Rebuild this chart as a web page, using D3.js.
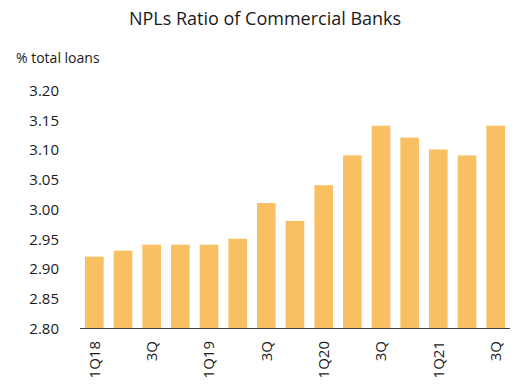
<!DOCTYPE html>
<html>
<head>
<meta charset="utf-8">
<script src="https://cdn.jsdelivr.net/npm/d3@7"></script>
<style>
  body { margin: 0; background: #fff; }
  text { font-family: "Open Sans", sans-serif; fill: #1a1a1a; }
</style>
</head>
<body>
<div id="chart"></div>
<script>
// quarters (1Q18 .. 3Q21)
const quarters = ["1Q18","2Q18","3Q18","4Q18","1Q19","2Q19","3Q19","4Q19",
                  "1Q20","2Q20","3Q20","4Q20","1Q21","2Q21","3Q21"]
const tickLabels = ["1Q18","","3Q","","1Q19","","3Q","","1Q20","","3Q","","1Q21","","3Q"]
const nplRatio = [2.92, 2.93, 2.94, 2.94, 2.94, 2.95, 3.01, 2.98,
                  3.04, 3.09, 3.14, 3.12, 3.10, 3.09, 3.14]
const yTicks = [2.80, 2.85, 2.90, 2.95, 3.00, 3.05, 3.10, 3.15, 3.20]

const width = 523
const height = 385
const margin = { top: 90, right: 13, bottom: 57, left: 80 }

const svg = d3.select('#chart')
    .append('svg')
    .attr('width', width)
    .attr('height', height)

//title
svg.append('text')
    .attr('x', 265)
    .attr('y', 25)
    .attr('text-anchor', 'middle')
    .style('font-size', '18px')
    .text('NPLs Ratio of Commercial Banks')

svg.append('text')
    .attr('x', 16)
    .attr('y', 63)
    .style('font-size', '14px')
    .text('% total loans')

const x = d3.scaleBand()
    .domain(quarters)
    .range([margin.left, width - margin.right])
    .paddingInner(0.35)
    .paddingOuter(0.175)

const y = d3.scaleLinear()
    .domain([2.80, 3.20])
    .range([height - margin.bottom, margin.top])

//bars
svg.append('g')
    .selectAll('rect')
    .data(nplRatio)
    .join('rect')
    .attr('x', (d, i) => x(quarters[i]))
    .attr('y', d => y(d))
    .attr('width', x.bandwidth())
    .attr('height', d => y(2.80) - y(d))
    .attr('fill', '#f9bf63')

//y axis (labels only)
const yAxis = svg.append('g')
    .attr('transform', `translate(${margin.left - 18},0)`)
    .call(d3.axisLeft(y).tickValues(yTicks).tickFormat(d3.format('.2f')).tickSize(0))
yAxis.select('.domain').remove()
yAxis.selectAll('text')
    .style('font-size', '15px')
    .attr('dy', '0.35em')
    .style('fill', '#1a1a1a')

//x axis
const xAxis = svg.append('g')
    .attr('transform', `translate(0,${height - margin.bottom})`)
    .call(d3.axisBottom(x).tickSize(0).tickFormat((d, i) => tickLabels[i]))
xAxis.select('.domain')
    .attr('stroke', '#404040')
    .attr('d', `M${margin.left},0.5H${width - margin.right}`)
xAxis.selectAll('text')
    .style('font-size', '15px')
    .style('fill', '#1a1a1a')
    .attr('text-anchor', 'end')
    .attr('transform', 'rotate(-90)')
    .attr('x', -13)
    .attr('y', 0)
    .attr('dy', '0.35em')
</script>
</body>
</html>
